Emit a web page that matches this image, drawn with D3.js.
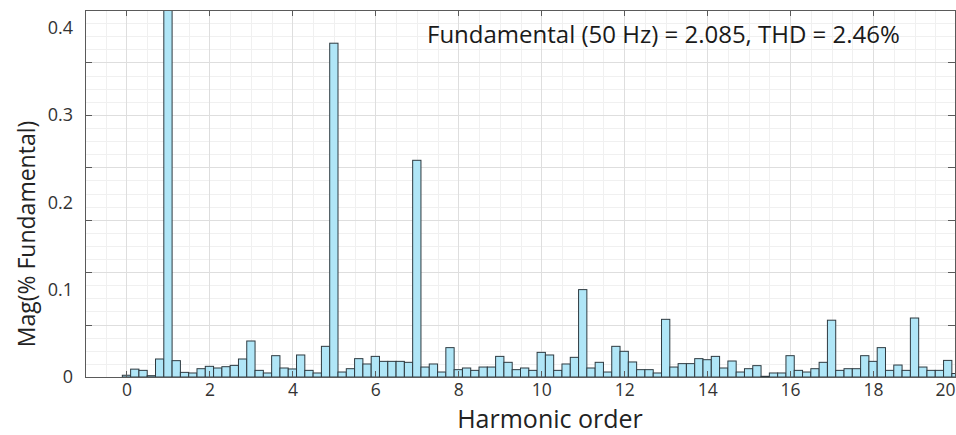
<!DOCTYPE html>
<html>
<head>
<meta charset="utf-8">
<script src="https://cdn.jsdelivr.net/npm/d3@7"></script>
<style>
  body { margin: 0; background: #fff; }
  svg { display: block; font-family: "Open Sans", "Noto Sans", sans-serif; }
</style>
</head>
<body>
<svg id="chart" width="956" height="435"></svg>
<script>
// Harmonic spectrum, 10 Hz bins (0.2 harmonic order per bin), magnitude relative to the fundamental
const magnitudes = [
  0.002, 0.009, 0.0076, 0.0015, 0.0206,          // 0.0 – 0.8
  1.0, 0.0187, 0.0053, 0.0046, 0.0095,           // 1.0 – 1.8
  0.0122, 0.0103, 0.0118, 0.0133, 0.0206,        // 2.0 – 2.8
  0.0412, 0.0076, 0.0046, 0.0244, 0.0103,        // 3.0 – 3.8
  0.0092, 0.0252, 0.0076, 0.0046, 0.0351,        // 4.0 – 4.8
  0.382, 0.0057, 0.0095, 0.021, 0.0149,          // 5.0 – 5.8
  0.0236, 0.0179, 0.0179, 0.0179, 0.0168,        // 6.0 – 6.8
  0.248, 0.0114, 0.0149, 0.0057, 0.0336,         // 7.0 – 7.8
  0.0084, 0.0103, 0.0076, 0.0114, 0.0114,        // 8.0 – 8.8
  0.0236, 0.0168, 0.0084, 0.0103, 0.0076,        // 9.0 – 9.8
  0.0282, 0.0252, 0.0076, 0.0149, 0.0225,        // 10.0 – 10.8
  0.1, 0.0103, 0.0168, 0.0057, 0.0351,           // 11.0 – 11.8
  0.0294, 0.0172, 0.0084, 0.0084, 0.0046,        // 12.0 – 12.8
  0.066, 0.0114, 0.0153, 0.0153, 0.021,          // 13.0 – 13.8
  0.0198, 0.0236, 0.0103, 0.0183, 0.0057,        // 14.0 – 14.8
  0.0095, 0.013, 0.0008, 0.0046, 0.0046,         // 15.0 – 15.8
  0.0244, 0.0076, 0.0057, 0.0095, 0.0168,        // 16.0 – 16.8
  0.065, 0.0076, 0.0095, 0.0095, 0.0244,         // 17.0 – 17.8
  0.0179, 0.0336, 0.0076, 0.0137, 0.0076,        // 18.0 – 18.8
  0.0675, 0.0114, 0.0076, 0.0076, 0.019,         // 19.0 – 19.8
  0.004                                           // 20.0
];
const binWidth = 0.2;                       // harmonic orders per bin
const harmonicOrders = magnitudes.map((_, i) => i * binWidth);

const xTicks = [0, 2, 4, 6, 8, 10, 12, 14, 16, 18, 20];
const yTickLabels = [0, 0.1, 0.2, 0.3, 0.4];
const annotation = "Fundamental (50 Hz) = 2.085, THD = 2.46%";
const xTitle = "Harmonic order";
const yTitle = "Mag(% Fundamental)";

const plot = { left: 85, right: 955, top: 10, bottom: 377 };

const x = d3.scaleLinear().domain([-1, 20]).range([plot.left, plot.right + 1]);
const y = d3.scaleLinear().domain([0, 0.42]).range([plot.bottom, plot.top]);

const svg = d3.select("#chart");
svg.append("rect").attr("width", 956).attr("height", 435).attr("fill", "#fff");

// grid: minor first, then major
const xMinor = d3.range(-1, 20.01, 0.5);
const xMajor = xTicks;
const yMinor = d3.range(0, 0.4201, 0.015);
const yMajor = d3.range(0, 0.4201, 0.06);

const grid = svg.append("g");
grid.selectAll("line.vmin").data(xMinor).join("line")
  .attr("x1", d => Math.round(x(d)) + 0.5).attr("x2", d => Math.round(x(d)) + 0.5)
  .attr("y1", plot.top).attr("y2", plot.bottom)
  .attr("stroke", "#f0f0f0").attr("stroke-width", 1);
grid.selectAll("line.hmin").data(yMinor).join("line")
  .attr("x1", plot.left).attr("x2", plot.right)
  .attr("y1", d => Math.round(y(d)) + 0.5).attr("y2", d => Math.round(y(d)) + 0.5)
  .attr("stroke", "#f0f0f0").attr("stroke-width", 1);
grid.selectAll("line.vmaj").data(xMajor).join("line")
  .attr("x1", d => Math.round(x(d)) + 0.5).attr("x2", d => Math.round(x(d)) + 0.5)
  .attr("y1", plot.top).attr("y2", plot.bottom)
  .attr("stroke", "#dedede").attr("stroke-width", 1);
grid.selectAll("line.hmaj").data(yMajor).join("line")
  .attr("x1", plot.left).attr("x2", plot.right)
  .attr("y1", d => Math.round(y(d)) + 0.5).attr("y2", d => Math.round(y(d)) + 0.5)
  .attr("stroke", "#dedede").attr("stroke-width", 1);

// bars, clipped to the axes box
svg.append("clipPath").attr("id", "plotClip")
  .append("rect")
  .attr("x", plot.left).attr("y", plot.top)
  .attr("width", plot.right - plot.left).attr("height", plot.bottom - plot.top);

svg.append("g").attr("clip-path", "url(#plotClip)")
  .selectAll("rect").data(magnitudes).join("rect")
  .attr("x", (d, i) => x(harmonicOrders[i] - binWidth / 2))
  .attr("width", (d, i) => x(harmonicOrders[i] + binWidth / 2) - x(harmonicOrders[i] - binWidth / 2))
  .attr("y", d => y(d))
  .attr("height", d => y(0) - y(d))
  .attr("fill", "#b0e6f7")
  .attr("stroke", "#2e3a40")
  .attr("stroke-width", 1);

// axes box
svg.append("rect")
  .attr("x", plot.left + 0.5).attr("y", plot.top + 0.5)
  .attr("width", plot.right - plot.left).attr("height", plot.bottom - plot.top)
  .attr("fill", "none").attr("stroke", "#5a5a5a").attr("stroke-width", 1);

// inward tick marks on all four sides
const tickColor = "#5a5a5a";
const marks = svg.append("g").attr("stroke", tickColor).attr("stroke-width", 1);
marks.selectAll("line.tt").data(xTicks).join("line")
  .attr("x1", d => Math.round(x(d)) + 0.5).attr("x2", d => Math.round(x(d)) + 0.5)
  .attr("y1", plot.top).attr("y2", plot.top + 6);
marks.selectAll("line.tb").data(xTicks).join("line")
  .attr("x1", d => Math.round(x(d)) + 0.5).attr("x2", d => Math.round(x(d)) + 0.5)
  .attr("y1", plot.bottom).attr("y2", plot.bottom - 6);
marks.selectAll("line.tl").data(yMajor).join("line")
  .attr("x1", plot.left).attr("x2", plot.left + 7)
  .attr("y1", d => Math.round(y(d)) + 0.5).attr("y2", d => Math.round(y(d)) + 0.5);
marks.selectAll("line.tr").data(yMajor).join("line")
  .attr("x1", plot.right - 7).attr("x2", plot.right)
  .attr("y1", d => Math.round(y(d)) + 0.5).attr("y2", d => Math.round(y(d)) + 0.5);

// tick labels
const xAxis = svg.append("g")
  .attr("transform", `translate(0,${plot.bottom})`)
  .call(d3.axisBottom(x).tickValues(xTicks).tickSize(0).tickPadding(7).tickFormat(d3.format("d")));
xAxis.select(".domain").remove();
xAxis.selectAll("text")
  .attr("font-size", 17.5).attr("fill", "#333")
  .attr("font-family", "'Open Sans', sans-serif");
// keep the last label inside the frame
xAxis.selectAll(".tick").filter(d => d === 20).select("text")
  .attr("text-anchor", "end").attr("dx", "-1px");

const yAxis = svg.append("g")
  .attr("transform", `translate(${plot.left},0)`)
  .call(d3.axisLeft(y).tickValues(yTickLabels).tickSize(0).tickPadding(12)
        .tickFormat(d => d === 0 ? "0" : d3.format(".1f")(d)));
yAxis.select(".domain").remove();
yAxis.selectAll("text")
  .attr("font-size", 18).attr("fill", "#333")
  .attr("font-family", "'Open Sans', sans-serif");

// titles
svg.append("text")
  .attr("x", 550).attr("y", 428)
  .attr("text-anchor", "middle")
  .attr("font-size", 25).attr("fill", "#222")
  .text(xTitle);

svg.append("text")
  .attr("transform", "translate(35,234) rotate(-90)")
  .attr("text-anchor", "middle")
  .attr("font-size", 23).attr("fill", "#222")
  .text(yTitle);

// summary annotation
svg.append("text")
  .attr("x", 427).attr("y", 43)
  .attr("font-size", 24).attr("fill", "#1a1a1a")
  .text(annotation);
</script>
</body>
</html>
